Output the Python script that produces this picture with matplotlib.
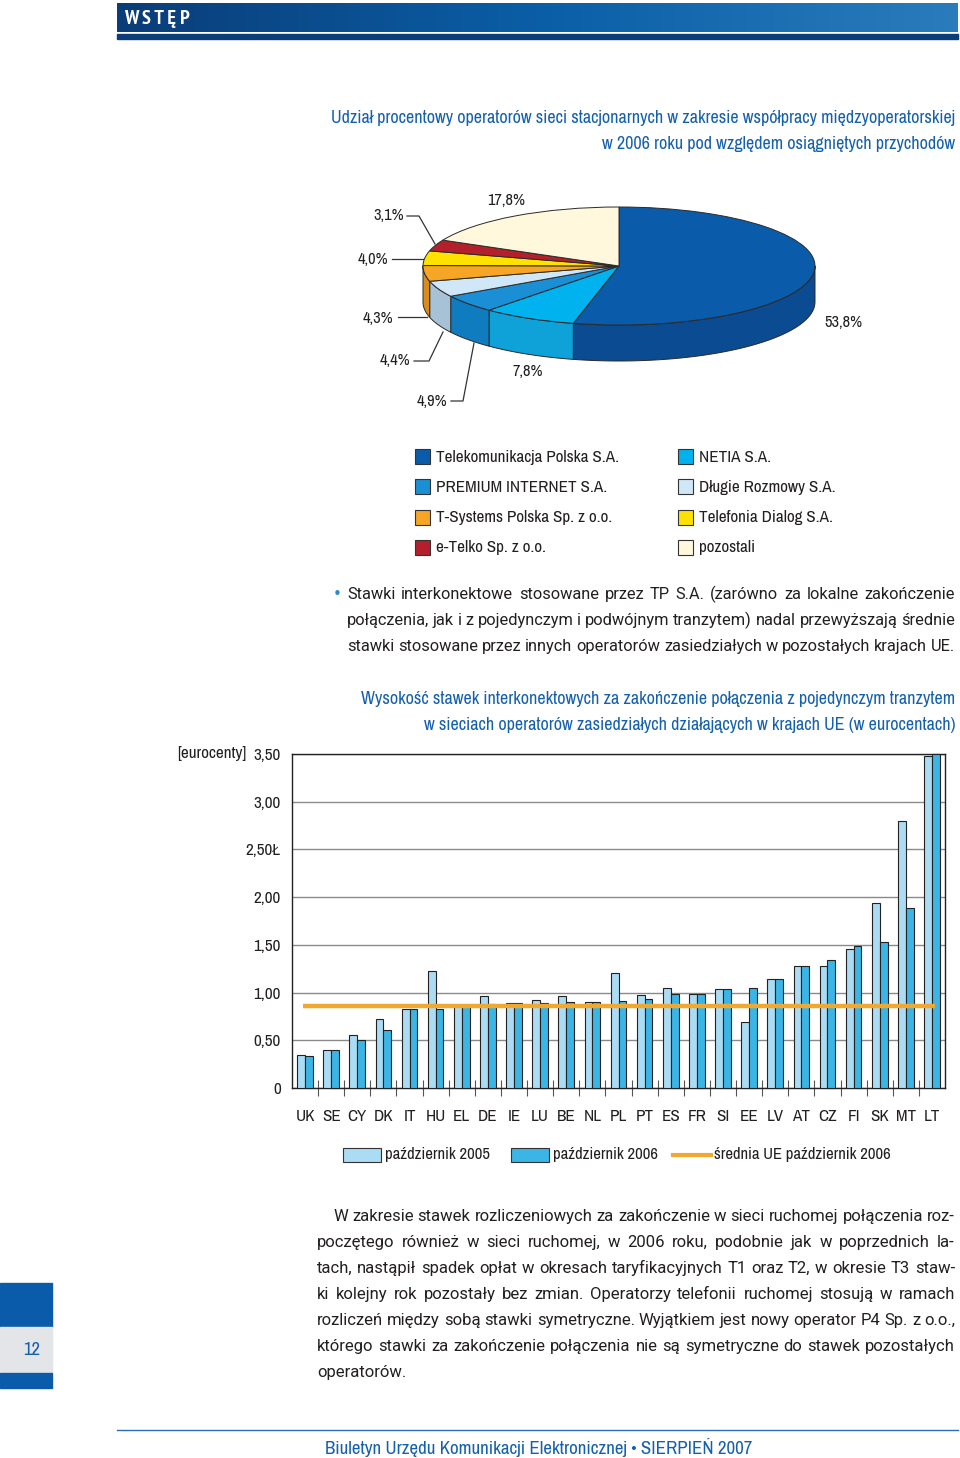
import numpy as np
import matplotlib
matplotlib.use('Agg')
import matplotlib.pyplot as plt
from matplotlib.patches import Rectangle, Polygon
from matplotlib.colors import LinearSegmentedColormap
from matplotlib import font_manager
from matplotlib.font_manager import FontProperties

# --- pie data ---
pie_names = ['Telekomunikacja Polska S.A.', 'NETIA S.A.', 'PREMIUM INTERNET S.A.',
             'Długie Rozmowy S.A.', 'T-Systems Polska Sp. z o.o.', 'Telefonia Dialog S.A.',
             'e-Telko Sp. z o.o.', 'pozostali']
pie_vals = [53.8, 7.8, 4.9, 4.4, 4.3, 4.0, 3.1, 17.8]
pie_labels = ['53,8%', '7,8%', '4,9%', '4,4%', '4,3%', '4,0%', '3,1%', '17,8%']
pie_top = ['#0a5caa', '#00b2ee', '#1b8fd6', '#cfe7f6', '#f6a524', '#ffe100', '#b3202b', '#fff8dc']
pie_side = ['#0a4b92', '#0ea2d9', '#0f7cc0', '#a7c2d6', '#d88c1b', '#e0c400', '#8e1820', '#e8e0c0']

# --- bar data ---
countries = ['UK', 'SE', 'CY', 'DK', 'IT', 'HU', 'EL', 'DE', 'IE', 'LU', 'BE', 'NL', 'PL',
             'PT', 'ES', 'FR', 'SI', 'EE', 'LV', 'AT', 'CZ', 'FI', 'SK', 'MT', 'LT']
oct2005 = [0.35, 0.40, 0.56, 0.72, 0.83, 1.23, 0.86, 0.96, 0.89, 0.92, 0.96, 0.90, 1.21,
           0.97, 1.05, 0.99, 1.04, 0.69, 1.14, 1.28, 1.28, 1.46, 1.94, 2.80, 3.48]
oct2006 = [0.34, 0.40, 0.50, 0.61, 0.83, 0.83, 0.86, 0.88, 0.89, 0.89, 0.90, 0.90, 0.91,
           0.93, 0.99, 0.99, 1.04, 1.05, 1.14, 1.28, 1.34, 1.49, 1.53, 1.89, 3.50]
eu_avg = 0.86
yticks = [0, 0.5, 1.0, 1.5, 2.0, 2.5, 3.0, 3.5]
ytick_labels = ['0', '0,50', '1,00', '1,50', '2,00', '2,50Ł', '3,00', '3,50']

W, H = 960, 1458
BLUE = '#1560ad'
INK = '#231f20'


# look for a narrow / condensed face, the print uses Helvetica Condensed
def find_face(bold=False):
    want = 700 if bold else 400
    best, best_score = None, None
    for f in font_manager.fontManager.ttflist:
        nm = f.name.lower()
        st = str(f.stretch).lower()
        if f.style != 'normal':
            continue
        if 'narrow' in nm:
            rank = 0
        elif 'semi' in st or 'semicondensed' in nm.replace(' ', '') or 'semi condensed' in nm:
            rank = 1
        elif ('condensed' in st or 'condensed' in nm) and 'extra' not in st and 'extra' not in nm \
                and 'ultra' not in st:
            rank = 2
        else:
            continue
        w = f.weight if isinstance(f.weight, int) else font_manager.weight_dict.get(f.weight, 400)
        score = (rank, abs(w - want))
        if best_score is None or score < best_score:
            best, best_score = f.fname, score
    return best


REG = find_face(False)
BOLD = find_face(True)
FALLBACK = 'Liberation Sans' if any(f.name == 'Liberation Sans' for f in font_manager.fontManager.ttflist) else 'DejaVu Sans'
SHRINK = 1.0 if REG else 0.9


def fp(size, bold=False):
    path = BOLD if bold else REG
    if path:
        return FontProperties(fname=path, size=size)
    return FontProperties(family=FALLBACK, size=size * SHRINK, weight='bold' if bold else 'normal')


def fpb(size):
    # body text face
    return FontProperties(family=['Roboto', 'Liberation Sans', 'DejaVu Sans'], size=size)


def box(x0, y0, x1, y1):
    return [x0 / W, 1 - y1 / H, (x1 - x0) / W, (y1 - y0) / H]


fig = plt.figure(figsize=(W / 100, H / 100), dpi=100)
page = fig.add_axes([0, 0, 1, 1])
page.axis('off')
rend = fig.canvas.get_renderer()

# header band
grad = np.linspace(0, 1, 256).reshape(1, -1)
cm = LinearSegmentedColormap.from_list('hdr', ['#0b3d78', '#0a5ea6', '#2a7cbb'])
page.imshow(grad, extent=(117, 958, 32, 3), aspect='auto', cmap=cm, zorder=1)
page.add_patch(Rectangle((117, 34), 841, 5, color='#0b3d78', zorder=1))
page.text(124, 19, 'W S T Ę P', color='white', fontproperties=fp(14.5, True),
          va='center', ha='left', zorder=2)

# page number box
page.add_patch(Rectangle((0, 1283), 52, 44, color='#0a5caa'))
page.add_patch(Rectangle((0, 1327), 52, 46, color='#e3e5e9'))
page.add_patch(Rectangle((0, 1373), 52, 15, color='#0a5caa'))
page.text(32, 1350, '12', color=BLUE, fontproperties=fp(13.5), ha='center', va='center')

# footer
page.plot([117, 958], [1430, 1430], color='#2a6db4', lw=1)
page.text(325, 1447, 'Biuletyn Urzędu Komunikacji Elektronicznej • SIERPIEŃ 2007',
          color=BLUE, fontproperties=fp(13.6), va='center', ha='left')

# titles
page.text(955, 118, 'Udział procentowy operatorów sieci stacjonarnych w zakresie współpracy międzyoperatorskiej',
          color=BLUE, fontproperties=fp(13), ha='right', va='center')
page.text(955, 144, 'w 2006 roku pod względem osiągniętych przychodów',
          color=BLUE, fontproperties=fp(13), ha='right', va='center')
page.text(955, 699, 'Wysokość stawek interkonektowych za zakończenie połączenia z pojedynczym tranzytem',
          color=BLUE, fontproperties=fp(13), ha='right', va='center')
page.text(955, 725, 'w sieciach operatorów zasiedziałych działających w krajach UE (w eurocentach)',
          color=BLUE, fontproperties=fp(13), ha='right', va='center')

# --- pie chart ---
cx, cy, rx, ry = 619, 266, 196, 59
depth = 36 / ry
pax = fig.add_axes(box(cx - 1.3 * rx, cy - 1.3 * ry, cx + 1.3 * rx, cy + 1.9 * ry))
wedges, _ = pax.pie(pie_vals, colors=pie_top, startangle=90, counterclock=False,
                    wedgeprops=dict(edgecolor='#2a2a2a', linewidth=0.7, zorder=3))
for w, sc in zip(wedges, pie_side):
    a, b = max(w.theta1, -180), min(w.theta2, 0)
    if a < b:
        t = np.radians(np.linspace(a, b, 60))
        top = np.column_stack([np.cos(t), np.sin(t)])
        bot = np.column_stack([np.cos(t[::-1]), np.sin(t[::-1]) - depth])
        pax.add_patch(Polygon(np.vstack([top, bot]), closed=True, facecolor=sc,
                              edgecolor='#2a2a2a', linewidth=0.7, zorder=2))
pax.set_aspect('auto')
pax.set_xlim(-1.3, 1.3)
pax.set_ylim(-1.9, 1.3)
pax.axis('off')

# pie labels with leader lines (page pixel coords)
lab_pos = {'53,8%': (843, 322, 'center'), '7,8%': (528, 371, 'center'),
           '4,9%': (447, 401, 'right'), '4,4%': (410, 360, 'right'),
           '4,3%': (393, 318, 'right'), '4,0%': (388, 259, 'right'),
           '3,1%': (404, 215, 'right'), '17,8%': (506, 200, 'center')}
for lab in pie_labels:
    x, y, ha = lab_pos[lab]
    page.text(x, y, lab, fontproperties=fp(11.8), color=INK, ha=ha, va='center')
leaders = [([407, 419, 435], [216, 216, 244]), ([392, 423], [259, 259]),
           ([398, 427], [317, 317]), ([414, 429, 443], [361, 361, 332]),
           ([451, 463, 474], [401, 401, 343])]
for xs, ys in leaders:
    page.plot(xs, ys, color='#333333', lw=0.9)

# pie legend (two columns)
leg_order = [0, 2, 4, 6, 1, 3, 5, 7]
for k, i in enumerate(leg_order):
    col, row = divmod(k, 4)
    x = 415 if col == 0 else 678
    y = 457 + row * 30.3
    page.add_patch(Rectangle((x, y - 8), 15, 15, facecolor=pie_top[i], edgecolor='#333333', lw=0.8))
    page.text(x + 21, y, pie_names[i], fontproperties=fp(12.3), color=INK, ha='left', va='center')


def fit_size(lines, starts, x1, size):
    # shrink until every justified line has room for word gaps
    while size > 8:
        ok = True
        for ln, x0 in zip(lines, starts):
            words = ln.split()
            tw = sum(page.text(0, 0, wd, fontproperties=fpb(size)).get_window_extent(rend).width
                     for wd in words)
            for t in page.texts[-len(words):]:
                t.remove()
            if x1 - x0 - tw < (len(words) - 1) * size * 0.28:
                ok = False
                break
        if ok:
            return size
        size -= 0.25
    return size


def justify(line, x0, x1, yb, size, last=False):
    words = line.split()
    texts = [page.text(x0, yb, wd, fontproperties=fpb(size), color=INK,
                       ha='left', va='baseline') for wd in words]
    widths = [t.get_window_extent(rend).width for t in texts]
    if last or len(words) < 2:
        gap = size * 0.35
    else:
        gap = (x1 - x0 - sum(widths)) / (len(words) - 1)
    x = x0
    for t, wd in zip(texts, widths):
        t.set_x(x)
        x += wd + gap


# bullet paragraph
bullet_lines = ['Stawki interkonektowe stosowane przez TP S.A. (zarówno za lokalne zakończenie',
                'połączenia, jak i z pojedynczym i podwójnym tranzytem) nadal przewyższają średnie',
                'stawki stosowane przez innych operatorów zasiedziałych w pozostałych krajach UE.']
bsize = fit_size(bullet_lines, [347] * 3, 955, 13)
page.text(337, 594, '•', color='#2a8ad0', fontsize=11, ha='center', va='center')
for i, ln in enumerate(bullet_lines):
    justify(ln, 347, 955, 599 + i * 26, bsize)

# bottom paragraph
para = ['W zakresie stawek rozliczeniowych za zakończenie w sieci ruchomej połączenia roz-',
        'poczętego również w sieci ruchomej, w 2006 roku, podobnie jak w poprzednich la-',
        'tach, nastąpił spadek opłat w okresach taryfikacyjnych T1 oraz T2, w okresie T3 staw-',
        'ki kolejny rok pozostały bez zmian. Operatorzy telefonii ruchomej stosują w ramach',
        'rozliczeń między sobą stawki symetryczne. Wyjątkiem jest nowy operator P4 Sp. z o.o.,',
        'którego stawki za zakończenie połączenia nie są symetryczne do stawek pozostałych',
        'operatorów.']
pstarts = [333] + [317] * (len(para) - 1)
psize = fit_size(para[:-1], pstarts[:-1], 955, 13)
for i, ln in enumerate(para):
    justify(ln, pstarts[i], 955, 1221 + i * 26, psize, last=(i == len(para) - 1))

# --- bar chart ---
ax = fig.add_axes(box(292, 754, 945, 1088))
x = np.arange(len(countries)) + 0.5
bw = 0.3
ax.bar(x - bw / 2, oct2005, bw, color='#abdcf4', edgecolor='#222222', linewidth=0.8, zorder=3)
ax.bar(x + bw / 2, oct2006, bw, color='#3bb5e6', edgecolor='#222222', linewidth=0.8, zorder=3,
       clip_on=False)
ax.hlines(eu_avg, 0.42, 24.6, color='#f0a830', lw=3.2, zorder=4)
ax.set_xlim(0, len(countries))
ax.set_ylim(0, 3.5)
ax.set_yticks(yticks)
ax.set_yticklabels(ytick_labels, color=INK)
for t in ax.get_yticklabels():
    t.set_fontproperties(fp(12.3))
ax.yaxis.grid(True, color='#8a8a8a', lw=1, zorder=0)
ax.set_axisbelow(True)
ax.tick_params(axis='y', length=0, pad=8)
ax.set_xticks(np.arange(1, len(countries)))
ax.set_xticklabels([])
ax.tick_params(axis='x', which='major', direction='inout', length=11, width=0.8, color='#555555')
ax.set_xticks(x, minor=True)
ax.set_xticklabels(countries, minor=True, color=INK)
for t in ax.get_xticklabels(minor=True):
    t.set_fontproperties(fp(12.3))
ax.tick_params(axis='x', which='minor', length=0, pad=15)
for s in ax.spines.values():
    s.set_color('#222222')
    s.set_linewidth(1)

# unit label just left of the top tick label
fig.canvas.draw()
top_lab = ax.get_yticklabels()[-1].get_window_extent(rend)
page.text(min(246, top_lab.x0 - 5), 753, '[eurocenty]', fontproperties=fp(12.3), color=INK,
          ha='right', va='center')

# bar legend
page.add_patch(Rectangle((343, 1148), 38, 14, facecolor='#abdcf4', edgecolor='#333333', lw=0.8))
page.text(385, 1155, 'październik 2005', fontproperties=fp(12), color=INK, va='center')
page.add_patch(Rectangle((511, 1148), 38, 14, facecolor='#3bb5e6', edgecolor='#333333', lw=0.8))
page.text(553, 1155, 'październik 2006', fontproperties=fp(12), color=INK, va='center')
page.plot([673, 711], [1155, 1155], color='#f0a830', lw=3)
page.text(714, 1155, 'średnia UE październik 2006', fontproperties=fp(12), color=INK, va='center')

page.set_xlim(0, W)
page.set_ylim(H, 0)

fig.savefig('out.png', dpi=100)
